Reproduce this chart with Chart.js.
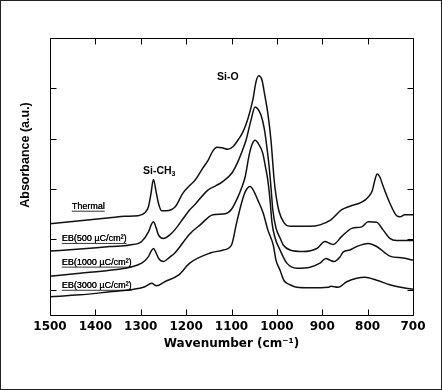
<!DOCTYPE html>
<html lang="en">
<head>
<meta charset="UTF-8">
<title>FTIR spectra</title>
<style>
    body { margin: 0; background: #fff; }
    .frame { width: 440px; height: 388px; border: 1px solid #222; }
    canvas { display: block; }
</style>
<script src="https://cdn.jsdelivr.net/npm/chart.js"></script>
</head>
<body>
<div class="frame"><canvas id="ftirChart" width="440" height="388"></canvas></div>
<script>
// axis ticks
const xTicks = [1500, 1400, 1300, 1200, 1100, 1000, 900, 800, 700];
const yTicks = [0, 1, 2, 3, 4, 5];

// spectra (wavenumber / absorbance in a.u.)
const thermalWn = [1500, 1434, 1368, 1335, 1306, 1291, 1283, 1278, 1272, 1266, 1261, 1254, 1244, 1224, 1207, 1191, 1180, 1163, 1151, 1141, 1132, 1121, 1108, 1097, 1086, 1075, 1064, 1053, 1046, 1040, 1033, 1026, 1020, 1013, 1006, 1002, 995, 984, 969, 927, 905, 881, 857, 839, 813, 799, 790, 784, 779, 773, 766, 751, 736, 729, 718, 700];
const thermalAbs = [1.31, 1.37, 1.43, 1.46, 1.47, 1.53, 1.65, 1.88, 2.19, 1.94, 1.72, 1.57, 1.57, 1.65, 1.92, 2.08, 2.18, 2.42, 2.58, 2.76, 2.83, 2.82, 2.79, 2.84, 2.97, 3.13, 3.39, 3.77, 4.13, 4.25, 4.17, 3.83, 3.51, 2.97, 2.18, 1.88, 1.55, 1.33, 1.26, 1.26, 1.29, 1.39, 1.59, 1.66, 1.74, 1.84, 1.96, 2.18, 2.30, 2.24, 2.06, 1.72, 1.47, 1.45, 1.49, 1.49];

const eb500Wn = [1500, 1434, 1368, 1324, 1298, 1283, 1277, 1272, 1266, 1261, 1250, 1236, 1225, 1207, 1192, 1180, 1152, 1136, 1121, 1099, 1086, 1077, 1068, 1057, 1048, 1042, 1035, 1028, 1024, 1017, 1013, 1009, 1002, 993, 986, 971, 942, 912, 894, 883, 876, 857, 835, 813, 799, 780, 766, 751, 736, 700];
const eb500Abs = [0.77, 0.81, 0.86, 0.89, 0.96, 1.15, 1.29, 1.35, 1.23, 1.09, 1.02, 1.09, 1.19, 1.41, 1.59, 1.70, 1.98, 2.06, 2.14, 2.32, 2.54, 2.74, 2.97, 3.37, 3.63, 3.59, 3.47, 3.21, 2.97, 2.44, 2.04, 1.59, 1.23, 1.03, 0.89, 0.79, 0.76, 0.82, 0.96, 0.92, 0.90, 1.06, 1.22, 1.25, 1.35, 1.34, 1.19, 1.02, 0.98, 0.98];

const eb1000Wn = [1500, 1434, 1368, 1324, 1298, 1283, 1277, 1272, 1266, 1261, 1250, 1236, 1225, 1192, 1169, 1141, 1114, 1100, 1086, 1077, 1070, 1061, 1055, 1048, 1042, 1031, 1026, 1020, 1015, 1011, 1004, 993, 978, 956, 927, 905, 892, 883, 874, 861, 854, 839, 824, 799, 780, 751, 721, 700];
const eb1000Abs = [0.27, 0.33, 0.39, 0.45, 0.53, 0.66, 0.77, 0.82, 0.73, 0.63, 0.56, 0.65, 0.73, 1.11, 1.29, 1.49, 1.51, 1.60, 1.84, 2.04, 2.24, 2.68, 2.88, 2.97, 2.92, 2.71, 2.48, 2.18, 1.78, 1.35, 1.03, 0.79, 0.53, 0.43, 0.45, 0.53, 0.62, 0.59, 0.56, 0.65, 0.75, 0.79, 0.86, 0.92, 0.86, 0.67, 0.63, 0.59];

const eb3000Wn = [1500, 1434, 1368, 1324, 1291, 1276, 1265, 1247, 1217, 1192, 1147, 1118, 1100, 1089, 1078, 1070, 1059, 1052, 1042, 1030, 1020, 1008, 1002, 993, 984, 971, 956, 927, 887, 881, 865, 846, 824, 806, 780, 751, 721, 700];
const eb3000Abs = [-0.14, -0.10, -0.04, 0.00, 0.06, 0.13, 0.08, 0.16, 0.29, 0.53, 0.73, 0.79, 0.89, 1.32, 1.72, 1.94, 2.05, 1.98, 1.78, 1.52, 1.19, 0.89, 0.59, 0.39, 0.18, 0.10, 0.05, 0.04, 0.05, 0.07, 0.05, 0.16, 0.23, 0.25, 0.19, 0.10, 0.04, 0.01];

const seriesNames = ['Thermal', 'EB(500 µC/cm²)', 'EB(1000 µC/cm²)', 'EB(3000 µC/cm²)'];

function toPoints(wn, abs) {
    return wn.map((w, i) => ({ x: w, y: abs[i] }));
}

// where the text notes sit, in data units
const notes = [
    { text: seriesNames[0], x: 1452, y: 1.65 },
    { text: seriesNames[1], x: 1474, y: 1.01 },
    { text: seriesNames[2], x: 1474, y: 0.54 },
    { text: seriesNames[3], x: 1474, y: 0.08 }
];

const decor = {
    id: 'decor',
    afterDatasetsDraw(chart) {
        const { ctx, chartArea: a, scales: { x, y } } = chart;
        ctx.save();
        ctx.strokeStyle = '#000';
        ctx.lineWidth = 1;
        const L = Math.round(a.left) + 0.5, R = Math.round(a.right) + 0.5;
        const T = Math.round(a.top) + 0.5, B = Math.round(a.bottom) + 0.5;
        ctx.strokeRect(L, T, R - L, B - T);

        // inward tick marks on all four sides
        ctx.beginPath();
        x.ticks.forEach(t => {
            const px = Math.round(x.getPixelForValue(t.value)) + 0.5;
            ctx.moveTo(px, T); ctx.lineTo(px, T + 6);
            ctx.moveTo(px, B); ctx.lineTo(px, B - 6);
        });
        y.ticks.forEach(t => {
            const py = Math.round(y.getPixelForValue(t.value)) + 0.5;
            ctx.moveTo(L, py); ctx.lineTo(L + 6, py);
            ctx.moveTo(R, py); ctx.lineTo(R - 6, py);
        });
        ctx.stroke();

        ctx.fillStyle = '#000';

        // y title
        ctx.save();
        ctx.translate(24.5, 154);
        ctx.rotate(-Math.PI / 2);
        ctx.font = 'bold 12.5px "Liberation Sans", Arial, sans-serif';
        ctx.textAlign = 'center';
        ctx.textBaseline = 'middle';
        ctx.fillText('Absorbance (a.u.)', 0, 0);
        ctx.restore();

        // underlined series notes
        ctx.font = '9px "Liberation Sans", Arial, sans-serif';
        ctx.textAlign = 'left';
        ctx.textBaseline = 'middle';
        ctx.lineWidth = 0.8;
        notes.forEach(n => {
            const px = x.getPixelForValue(n.x), py = y.getPixelForValue(n.y);
            ctx.fillText(n.text, px, py);
            ctx.fillText(n.text, px + 0.3, py);
            const w = ctx.measureText(n.text).width;
            ctx.beginPath();
            ctx.moveTo(px, py + 4.5); ctx.lineTo(px + w, py + 4.5);
            ctx.stroke();
        });

        // peak labels
        ctx.font = 'bold 10.5px "Liberation Sans", Arial, sans-serif';
        ctx.fillText('Si-O', x.getPixelForValue(1132), y.getPixelForValue(4.23));
        const sx = x.getPixelForValue(1295), sy = y.getPixelForValue(2.36);
        ctx.fillText('Si-CH', sx, sy);
        const sw = ctx.measureText('Si-CH').width;
        ctx.font = 'bold 7px "Liberation Sans", Arial, sans-serif';
        ctx.fillText('3', sx + sw, sy + 3);
        ctx.restore();
    }
};

const lineStyle = {
    borderColor: '#111',
    borderWidth: 1.5,
    pointRadius: 0,
    fill: false,
    cubicInterpolationMode: 'monotone'
};

const ctx = document.getElementById('ftirChart').getContext('2d');
new Chart(ctx, {
    type: 'line',
    data: {
        datasets: [
            { label: seriesNames[0], data: toPoints(thermalWn, thermalAbs), ...lineStyle },
            { label: seriesNames[1], data: toPoints(eb500Wn, eb500Abs), ...lineStyle },
            { label: seriesNames[2], data: toPoints(eb1000Wn, eb1000Abs), ...lineStyle },
            { label: seriesNames[3], data: toPoints(eb3000Wn, eb3000Abs), ...lineStyle }
        ]
    },
    options: {
        responsive: false,
        animation: false,
        layout: { padding: { left: 0, top: 37, right: 28, bottom: 37.6 } },
        plugins: { legend: { display: false }, tooltip: { enabled: false } },
        scales: {
            x: {
                type: 'linear',
                reverse: true,
                min: 700,
                max: 1500,
                afterBuildTicks: s => { s.ticks = xTicks.map(v => ({ value: v })); },
                afterFit: s => { s.height = 36.4; },
                grid: { display: false, drawTicks: false },
                border: { display: false },
                ticks: {
                    autoSkip: false,
                    maxRotation: 0,
                    padding: 5,
                    color: '#000',
                    font: { family: 'DejaVu Sans', weight: 'bold', size: 12 },
                    callback: v => String(v)
                },
                title: {
                    display: true,
                    text: 'Wavenumber (cm⁻¹)',
                    color: '#000',
                    padding: { top: 2, bottom: 0 },
                    font: { family: 'DejaVu Sans', weight: 'bold', size: 12 }
                }
            },
            y: {
                type: 'linear',
                min: -0.5,
                max: 5,
                afterBuildTicks: s => { s.ticks = yTicks.map(v => ({ value: v })); },
                afterFit: s => { s.width = 49; },
                grid: { display: false, drawTicks: false },
                border: { display: false },
                ticks: { display: false }
            }
        }
    },
    plugins: [decor]
});
</script>
</body>
</html>
